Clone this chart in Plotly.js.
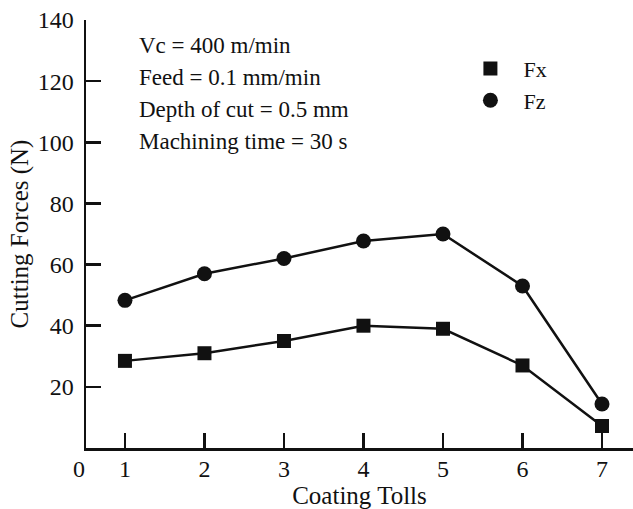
<!DOCTYPE html>
<html>
<head>
<meta charset="utf-8">
<script src="https://cdn.plot.ly/plotly-3.0.1.min.js"></script>
<style>html,body{margin:0;padding:0;background:#fff;}#chart{width:633px;height:509px;}</style>
</head>
<body>
<div id="chart"></div>
<script>
var coatingTools = [1, 2, 3, 4, 5, 6, 7];
var fxValues = [28.5, 31, 35, 40, 39, 27, 7.2];
var fzValues = [48.3, 57, 62, 67.7, 70, 53, 14.4];
var yTickValues = [20, 40, 60, 80, 100, 120, 140];
var conditionLines = ["Vc = 400 m/min", "Feed = 0.1 mm/min", "Depth of cut = 0.5 mm", "Machining time = 30 s"];

var serif = "Liberation Serif, Times New Roman, serif";
var ink = "#111111";

var traces = [
  {x: coatingTools, y: fxValues, mode: "lines+markers", name: "Fx", showlegend: false,
   line: {color: ink, width: 2.5}, marker: {symbol: "square", size: 14, color: ink}},
  {x: coatingTools, y: fzValues, mode: "lines+markers", name: "Fz", showlegend: false,
   line: {color: ink, width: 2.5}, marker: {symbol: "circle", size: 15, color: ink}},
  {x: [null], y: [null], mode: "markers", name: "Fx", legendgroup: "a",
   marker: {symbol: "square", size: 14, color: ink}},
  {x: [null], y: [null], mode: "markers", name: "Fz", legendgroup: "b",
   marker: {symbol: "circle", size: 15, color: ink}}
];

var annotations = conditionLines.map(function (t, i) {
  return {text: t, xref: "paper", yref: "paper", x: (137 - 86) / 547, y: (448 - 45 - i * 32.3) / 428,
          xanchor: "left", yanchor: "middle", showarrow: false, font: {family: serif, size: 23, color: ink}};
});
annotations.push({text: "0", xref: "paper", yref: "paper", x: 0, y: 0, xanchor: "right", yanchor: "top",
  xshift: 1, yshift: -6, showarrow: false, font: {family: serif, size: 24, color: ink}});

var layout = {
  width: 633, height: 509,
  margin: {l: 86, r: 0, t: 20, b: 61},
  paper_bgcolor: "#fff", plot_bgcolor: "#fff",
  font: {family: serif, color: ink},
  showlegend: true,
  legend: {x: 0.679, y: 0.935, xanchor: "left", yanchor: "top", bgcolor: "rgba(0,0,0,0)",
           itemwidth: 56,
           font: {family: serif, size: 22, color: ink}, traceorder: "grouped", tracegroupgap: 0},
  xaxis: {range: [0.51, 7.39], tickvals: coatingTools, ticktext: coatingTools.map(String),
          ticks: "inside", ticklen: 15, tickwidth: 2.5, tickcolor: ink, ticklabelstandoff: -2,
          showline: true, linecolor: ink, linewidth: 2.5, showgrid: false, zeroline: false,
          tickfont: {family: serif, size: 24, color: ink},
          title: {text: "Coating Tolls", font: {family: serif, size: 25, color: ink}, standoff: 4}},
  yaxis: {range: [0, 140], tickvals: yTickValues, ticktext: yTickValues.map(String),
          ticks: "inside", ticklen: 15, tickwidth: 2.5, tickcolor: ink, ticklabelstandoff: 5,
          showline: true, linecolor: ink, linewidth: 2.5, showgrid: false, zeroline: false,
          tickfont: {family: serif, size: 24, color: ink},
          title: {text: "Cutting Forces (N)", font: {family: serif, size: 25, color: ink}, standoff: 2}},
  annotations: annotations
};

Plotly.newPlot("chart", traces, layout, {displayModeBar: false, staticPlot: true});
</script>
</body>
</html>
